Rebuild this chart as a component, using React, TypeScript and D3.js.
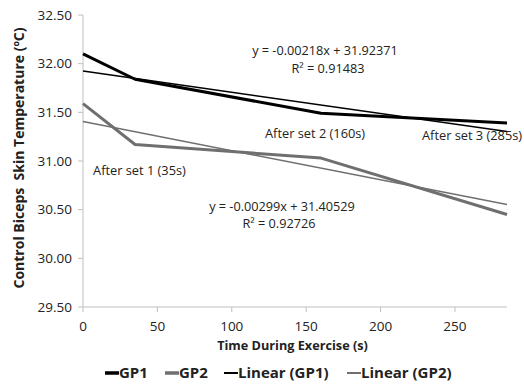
import React from "react";
import * as d3 from "d3";

// Time points (s) and mean skin temperature (ºC)
const times = [0, 35, 160, 285];
const gp1 = [32.1, 31.84, 31.49, 31.39];
const gp2 = [31.59, 31.17, 31.03, 30.45];

// Excel trendline coefficients shown on the chart
const fit1 = { slope: -0.00218, intercept: 31.92371, r2: "0.91483" };
const fit2 = { slope: -0.00299, intercept: 31.40529, r2: "0.92726" };

const yTicks = [29.5, 30.0, 30.5, 31.0, 31.5, 32.0, 32.5];
const xTicks = [0, 50, 100, 150, 200, 250];

const setLabels = [
  { text: "After set 1 (35s)", x: 35, y: 30.86 },
  { text: "After set 2 (160s)", x: 160, y: 31.24 },
  { text: "After set 3 (285s)", x: 285, y: 31.22 },
];

const legendItems = [
  { name: "GP1", color: "#000000", width: 3 },
  { name: "GP2", color: "#6f6f6f", width: 3 },
  { name: "Linear (GP1)", color: "#000000", width: 1.5 },
  { name: "Linear (GP2)", color: "#6f6f6f", width: 1.5 },
];

const W = 524;
const H = 386;
const margin = { top: 15, right: 17, bottom: 79, left: 83 };
const font = "'Open Sans', sans-serif";

export default function App() {
  const x = d3.scaleLinear().domain([0, 285]).range([margin.left, W - margin.right]);
  const y = d3.scaleLinear().domain([29.5, 32.5]).range([H - margin.bottom, margin.top]);

  const line = d3
    .line<[number, number]>()
    .x((d) => x(d[0]))
    .y((d) => y(d[1]));

  const series1 = times.map((t, i) => [t, gp1[i]] as [number, number]);
  const series2 = times.map((t, i) => [t, gp2[i]] as [number, number]);
  const [x0, x1] = x.domain();
  const trend1: [number, number][] = [x0, x1].map((t) => [t, fit1.intercept + fit1.slope * t]);
  const trend2: [number, number][] = [x0, x1].map((t) => [t, fit2.intercept + fit2.slope * t]);

  const axisColor = "#bfbfbf";
  const legendX = [105, 165, 224, 347];
  const labelOffset = [-42, -56, -85];

  return (
    <svg width={W} height={H} style={{ position: "absolute", left: 0, top: 0, background: "#fff" }}>
      {/* axes */}
      <line x1={x(0)} x2={x(0)} y1={y(32.5)} y2={y(29.5)} stroke={axisColor} strokeWidth={1} />
      <line x1={x(0)} x2={x(285)} y1={y(29.5)} y2={y(29.5)} stroke={axisColor} strokeWidth={1} />
      {yTicks.map((t) => (
        <g key={t}>
          <line x1={x(0) - 5} x2={x(0)} y1={y(t)} y2={y(t)} stroke={axisColor} />
          <text x={x(0) - 11} y={y(t)} dy="0.35em" textAnchor="end" fontFamily={font} fontSize={13.5} fill="#222">
            {t.toFixed(2)}
          </text>
        </g>
      ))}
      {xTicks.map((t) => (
        <g key={t}>
          <line x1={x(t)} x2={x(t)} y1={y(29.5)} y2={y(29.5) + 5} stroke={axisColor} />
          <text x={x(t)} y={y(29.5) + 24} textAnchor="middle" fontFamily={font} fontSize={13.5} fill="#222">
            {t}
          </text>
        </g>
      ))}

      {/* axis titles */}
      <text
        transform={`translate(24,${(y(32.5) + y(29.5)) / 2 - 3}) rotate(-90)`}
        textAnchor="middle"
        fontFamily={font}
        fontSize={14}
        fontWeight="bold"
        fill="#222"
        style={{ whiteSpace: "pre" }}
      >
        Control Biceps  Skin Temperature (ºC)
      </text>
      <text x={292.5} y={350} textAnchor="middle" fontFamily={font} fontSize={12.7} fontWeight="bold" fill="#222">
        Time During Exercise (s)
      </text>

      {/* trendlines */}
      <path d={line(trend1) ?? ""} fill="none" stroke="#000" strokeWidth={1.5} />
      <path d={line(trend2) ?? ""} fill="none" stroke="#6f6f6f" strokeWidth={1.5} />

      {/* series */}
      <path d={line(series2) ?? ""} fill="none" stroke="#6f6f6f" strokeWidth={3} strokeLinejoin="round" />
      <path d={line(series1) ?? ""} fill="none" stroke="#000" strokeWidth={3} strokeLinejoin="round" />

      {/* equations */}
      <g fontFamily={font} fontSize={12.7} fill="#222" textAnchor="middle">
        <text x={325} y={55}>y = -0.00218x + 31.92371</text>
        <text x={328} y={73}>R² = {fit1.r2}</text>
        <text x={282} y={211}>y = -0.00299x + 31.40529</text>
        <text x={279} y={228}>R² = {fit2.r2}</text>
      </g>

      {/* annotations */}
      <g fontFamily={font} fontSize={12.8} fill="#222">
        {setLabels.map((l, i) => (
          <text key={l.text} x={x(l.x) + labelOffset[i]} y={y(l.y)}>
            {l.text}
          </text>
        ))}
      </g>

      {/* legend */}
      <g fontFamily={font} fontSize={15} fontWeight="bold" fill="#222">
        {legendItems.map((it, i) => (
          <g key={it.name} transform={`translate(${legendX[i]},373)`}>
            <line x1={0} x2={14} y1={0} y2={0} stroke={it.color} strokeWidth={it.width + 0.5} />
            <text x={14} y={0} dy="0.35em">
              {it.name}
            </text>
          </g>
        ))}
      </g>
    </svg>
  );
}
